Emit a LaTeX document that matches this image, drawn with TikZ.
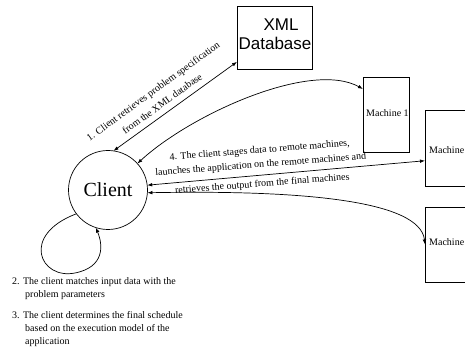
\documentclass[tikz,border=0pt]{standalone}
\usepackage{fontspec}
\setmainfont{Liberation Serif}
\setsansfont{Liberation Sans}
\usetikzlibrary{arrows.meta}
\begin{document}
\begin{tikzpicture}[x=1pt,y=-1pt,
  box/.style={draw,line width=0.7pt,inner sep=0,outer sep=0},
  lbl/.style={font=\fontsize{10}{11}\selectfont,inner sep=0},
  tip/.tip={Latex[length=5pt,width=3.6pt]},
  con/.style={line width=0.7pt,tip-tip},
  onecon/.style={line width=0.7pt,-tip},
]
\useasboundingbox (0,0) rectangle (465,352);
% nodes
\node[draw,circle,minimum size=79pt,line width=0.7pt,inner sep=0,outer sep=0,
      font=\fontsize{20}{24}\selectfont] (client) at (108,190) {Client};
\node[box,minimum width=75pt,minimum height=63pt] (xml) at (274.5,37.5) {};
\node[font=\sffamily\fontsize{17}{18}\selectfont,inner sep=0] (xmlt1) at (281,25) {XML};
\node[font=\sffamily\fontsize{17}{18}\selectfont,inner sep=0] (xmlt2) at (275,43) {Database};
\node[box,minimum width=46pt,minimum height=75pt] (m1) at (386,114.5) {};
\node[lbl,anchor=west] (m1t) at (366,113) {Machine 1};
\node[box,minimum width=46pt,minimum height=76pt] (m2) at (448,148) {};
\node[lbl,anchor=west] (m2t) at (429,150) {Machine};
\node[box,minimum width=46pt,minimum height=75pt] (m3) at (448,244.5) {};
\node[lbl,anchor=west] (m3t) at (429,242) {Machine};
% connectors
\draw[con] (client.82) -- (xml.213);
\draw[con] (client.42) .. controls (190,115) and (310,60) .. (m1.132);
\draw[con] (client.7.5) -- (m2.209.5);
\draw[con] (client.-4.5) .. controls (300,190) and (420,200) .. (m3.west);
\draw[onecon] (client.217) .. controls (20,235) and (40,280) .. (75,273)
   .. controls (105,267) and (103,245) .. (client.252);
% labels
\node[lbl,rotate=36,align=center,font=\fontsize{10}{15.5}\selectfont] (l1) at (157.5,97.5)
  {1. Client retrieves problem specification\\from the XML database};
\node[lbl,rotate=4.5,align=center,font=\fontsize{10}{14.3}\selectfont] (l4) at (261,167.5)
  {4. The client stages data to remote machines,\\launches the application on the remote machines and\\[5pt]retrieves the output from the final machines};
\node[lbl,anchor=north west,align=left,font=\fontsize{10}{13.5}\selectfont] (t2) at (12,277)
  {2. The client matches input data with the\\\hspace*{13pt}problem parameters};
\node[lbl,anchor=north west,align=left,font=\fontsize{10}{13.3}\selectfont] (t3) at (12,311)
  {3. The client determines the final schedule\\\hspace*{13pt}based on the execution model of the\\\hspace*{13pt}application};
\end{tikzpicture}
\end{document}
